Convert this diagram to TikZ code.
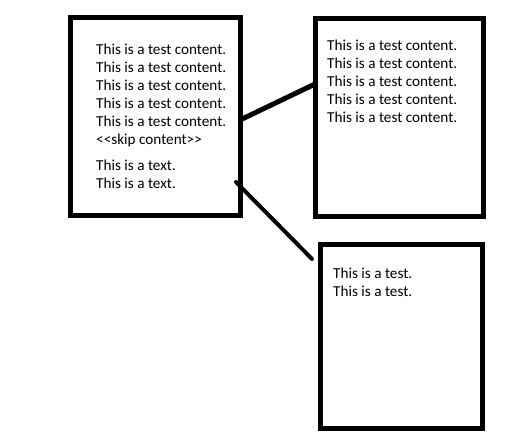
\documentclass[tikz,border=0pt]{standalone}
\usepackage{fontspec}
\setmainfont{Carlito}
\begin{document}
\begin{tikzpicture}[x=1pt,y=-1pt,
  box/.style={draw=black,line width=5pt,minimum width=#1,inner sep=0pt},
  txt/.style={anchor=base west,inner sep=0pt,font=\fontsize{15.2}{18}\selectfont},
  link/.style={draw=black,line width=5pt}]
\useasboundingbox (0,0) rectangle (516,447);
\node[box=169.5pt,minimum height=197.5pt] (A) at (155.25,116.25) {};
\node[box=168.5pt,minimum height=198.2pt] (B) at (399.25,117.6) {};
\node[box=162.5pt,minimum height=184.5pt] (C) at (401.25,336.25) {};
\foreach \i/\y in {1/54,2/72,3/90,4/108,5/126}{
  \node[txt] (ta\i) at (96,\y) {This is a test content.};
}
\node[txt] (ta6) at (96,144) {<{}<skip content>{}>};
\node[txt] (tb1) at (96,170) {This is a text.};
\node[txt] (tb2) at (96,188) {This is a text.};
\foreach \i/\y in {1/50,2/68,3/86,4/104,5/122}{
  \node[txt] (tc\i) at (327,\y) {This is a test content.};
}
\node[txt] (td1) at (333,278) {This is a test.};
\node[txt] (td2) at (333,296) {This is a test.};
\coordinate (a1) at (240,120);
\coordinate (b1) at (315,84);
\coordinate (a2) at (236,182);
\coordinate (c2) at (312,259);
\draw[link] (a1) -- (b1);
\draw[link,line width=4pt,line cap=round] (a2) -- (c2);
\end{tikzpicture}
\end{document}
